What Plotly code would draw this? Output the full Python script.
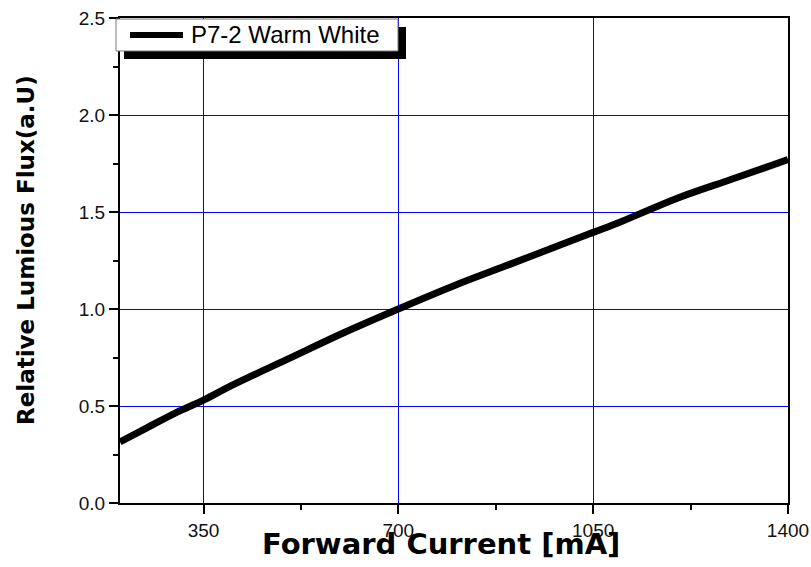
import plotly.graph_objects as go

# Data
current_ma = [200, 250, 300, 350, 400, 500, 600, 700, 800, 900, 1000, 1050, 1100, 1200, 1300, 1400]
rel_flux = [0.315, 0.39, 0.465, 0.53, 0.605, 0.74, 0.875, 1.0, 1.12, 1.23, 1.34, 1.395, 1.45, 1.57, 1.67, 1.77]
series_name = "P7-2 Warm White"
x_ticks = [350, 700, 1050, 1400]
x_minor = [525, 875, 1225]
y_ticks = [0.0, 0.5, 1.0, 1.5, 2.0, 2.5]
y_tick_text = ["0.0", "0.5", "1.0", "1.5", "2.0", "2.5"]
y_minor = [0.25, 0.75, 1.25, 1.75, 2.25]

W, H = 811, 567
L, R, T, B = 120, 23, 18, 64
PW, PH = W - L - R, H - T - B


def px_x(p):
    return (p - L) / PW


def px_y(p):
    return (H - B - p) / PH


fig = go.Figure()
fig.add_trace(go.Scatter(x=current_ma, y=rel_flux, mode="lines", name=series_name,
                         line=dict(color="black", width=7), line_shape="spline",
                         showlegend=False))

tick_font = dict(family="Liberation Sans, Arial", size=19, color="#111111")

fig.update_layout(
    width=W, height=H,
    margin=dict(l=L, r=R, t=T, b=B, autoexpand=False),
    paper_bgcolor="white", plot_bgcolor="white",
    xaxis=dict(range=[200, 1400], tickvals=x_ticks, ticktext=[str(v) for v in x_ticks],
               showgrid=True, gridcolor="#0000ff", gridwidth=1,
               showline=True, linecolor="black", linewidth=2, mirror=True,
               ticks="outside", ticklen=9, tickwidth=2, tickcolor="black",
               minor=dict(tickvals=x_minor, ticks="outside", ticklen=5, tickwidth=2,
                          tickcolor="black", showgrid=False),
               tickfont=tick_font, zeroline=False, fixedrange=True, automargin=False),
    yaxis=dict(range=[0, 2.5], tickvals=y_ticks, ticktext=y_tick_text,
               showgrid=True, gridcolor="#0000ff", gridwidth=1,
               showline=True, linecolor="black", linewidth=2, mirror=True,
               ticks="outside", ticklen=9, tickwidth=2, tickcolor="black",
               minor=dict(tickvals=y_minor, ticks="outside", ticklen=5, tickwidth=2,
                          tickcolor="black", showgrid=False),
               tickfont=tick_font, zeroline=False, fixedrange=True, automargin=False),
)

# Axis titles
fig.add_annotation(text="<b>Forward Current [mA]</b>", xref="paper", yref="paper",
                   x=px_x(441), y=px_y(544), xanchor="center", yanchor="middle",
                   showarrow=False, font=dict(family="DejaVu Sans", size=29, color="black"))
fig.add_annotation(text="<b>Relative Lumious Flux(a.U)</b>", xref="paper", yref="paper",
                   x=px_x(26), y=px_y(250), xanchor="center", yanchor="middle",
                   textangle=-90, showarrow=False,
                   font=dict(family="DejaVu Sans", size=23, color="black"))

# Legend box with shadow
fig.add_shape(type="rect", xref="paper", yref="paper", layer="above",
              x0=px_x(124), x1=px_x(406), y0=px_y(27), y1=px_y(59),
              fillcolor="black", line=dict(width=0))
fig.add_shape(type="rect", xref="paper", yref="paper", layer="above",
              x0=px_x(116), x1=px_x(398), y0=px_y(19), y1=px_y(51),
              fillcolor="white", line=dict(color="#777777", width=1))
fig.add_shape(type="line", xref="paper", yref="paper", layer="above",
              x0=px_x(130), x1=px_x(183), y0=px_y(35), y1=px_y(35),
              line=dict(color="black", width=6))
fig.add_annotation(text=series_name, xref="paper", yref="paper",
                   x=px_x(189), y=px_y(35), xanchor="left", yanchor="middle",
                   showarrow=False, font=dict(family="Liberation Sans, Arial", size=24, color="black"))

fig.write_html("out.html")
